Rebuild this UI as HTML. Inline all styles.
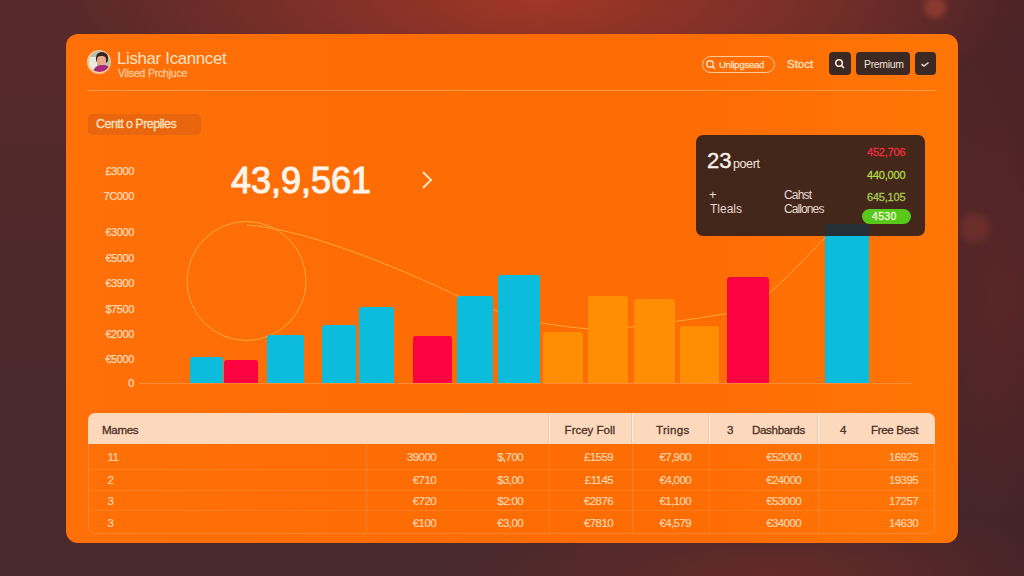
<!DOCTYPE html>
<html><head><meta charset="utf-8">
<style>
*{margin:0;padding:0;box-sizing:border-box}
html,body{width:1024px;height:576px;overflow:hidden}
body{position:relative;font-family:"Liberation Sans",sans-serif;background:#4a292b}
.abs{position:absolute;white-space:nowrap;line-height:1}
#bg{position:absolute;left:0;top:0;width:1024px;height:576px;
background:
radial-gradient(ellipse 470px 150px at 540px 0px, rgba(165,55,38,0.95), rgba(165,55,38,0) 100%),
radial-gradient(ellipse 330px 75px at 770px 576px, rgba(120,42,38,0.6), rgba(120,42,38,0) 100%),
radial-gradient(ellipse 90px 260px at 1000px 300px, rgba(105,40,38,0.55), rgba(105,40,38,0) 100%),
linear-gradient(90deg, rgba(0,0,0,0) 80%, rgba(30,10,20,0.18) 100%),
linear-gradient(180deg,#58292a 0%,#4e292b 45%,#48292c 100%);}
.bok{position:absolute;border-radius:50%;filter:blur(3px)}
#card{position:absolute;left:66px;top:34px;width:892px;height:508.5px;border-radius:12px;background:linear-gradient(90deg,#ff7008 0%,#fe6c04 45%,#fe6c04 70%,#ff7606 100%)}
.y{position:absolute;right:890px;font-size:11px;letter-spacing:-0.4px;color:#fddcbc;line-height:1;-webkit-text-stroke:0.25px #fddcbc;margin-top:1px}
.bar{position:absolute;bottom:193px;border-radius:3px 3px 0 0}
.c{background:#0cbcdc}.r{background:#fc0240}.o{background:#ff8e04}
.dk{position:absolute;background:#3c2924;border-radius:4px}
.td{position:absolute;font-size:11.5px;letter-spacing:-0.6px;line-height:1;margin-top:1px;color:#fdd4ac;white-space:nowrap;-webkit-text-stroke:0.2px #fdd4ac}
.tr{text-align:right}
.hl{position:absolute;left:89px;width:845px;height:1px;background:rgba(255,150,70,0.4)}
.vl{position:absolute;top:443px;width:1px;height:89px;background:rgba(255,160,90,0.35)}
.hv{position:absolute;top:413px;width:1px;height:30px;background:rgba(255,244,236,0.9);box-shadow:-1px 0 0 rgba(200,130,90,0.18)}
.th{position:absolute;font-size:11.6px;letter-spacing:-0.35px;line-height:1;margin-top:-0.5px;color:#4a3026;white-space:nowrap;-webkit-text-stroke:0.3px #4a3026}
</style></head><body>
<div id="bg"></div>
<div class="bok" style="left:924px;top:-4px;width:22px;height:22px;background:#8a3a30"></div>
<div class="bok" style="left:960px;top:213px;width:30px;height:30px;background:#6b2e2a"></div>
<div class="bok" style="left:575px;top:541px;width:28px;height:28px;background:#5a2a2a;opacity:.6"></div>
<div id="card"></div>

<!-- header -->
<div class="abs" style="left:87px;top:49.5px;width:24px;height:24px;border-radius:50%;background:#f7c89a;overflow:hidden;filter:blur(0.4px)">
  <div style="position:absolute;left:1.5px;top:1.5px;width:21px;height:21px;border-radius:50%;background:#b8c0a8;overflow:hidden">
    <div style="position:absolute;left:0;top:6px;width:8px;height:12px;background:#e8ece0"></div>
    <div style="position:absolute;left:7px;top:1px;width:12px;height:11px;border-radius:50% 50% 35% 35%;background:#3a2220"></div>
    <div style="position:absolute;left:8px;top:5px;width:9px;height:9px;border-radius:40%;background:#e6a88a"></div>
    <div style="position:absolute;left:5px;top:14px;width:17px;height:10px;border-radius:50% 50% 0 0;background:#a8287c"></div>
  </div>
</div>
<div class="abs" style="left:117px;top:51px;font-size:16.8px;letter-spacing:-0.3px;color:#fde2c6">Lishar Icanncet</div>
<div class="abs" style="left:118px;top:68px;font-size:10.5px;letter-spacing:-0.2px;color:#fcc898;-webkit-text-stroke:0.3px #fcc898">Vilsed Prchjuce</div>
<div class="abs" style="left:87px;top:90px;width:849px;height:1px;background:#ff9a44"></div>

<div class="abs" style="left:702px;top:56px;width:73px;height:17px;border:1px solid #fdc89a;border-radius:9px"></div>
<svg class="abs" style="left:705px;top:59px" width="12" height="12" viewBox="0 0 12 12"><circle cx="5" cy="5" r="3.3" fill="none" stroke="#fde0c2" stroke-width="1.5"/><line x1="7.4" y1="7.4" x2="10" y2="10" stroke="#fde0c2" stroke-width="1.5"/></svg>
<div class="abs" style="left:719px;top:60px;font-size:9.5px;letter-spacing:-0.25px;color:#fde0c2;-webkit-text-stroke:0.25px #fde0c2">Unlipgsead</div>
<div class="abs" style="left:787px;top:59px;font-size:11.5px;color:#fee0c0;-webkit-text-stroke:0.3px #fee0c0">Stoct</div>
<div class="dk" style="left:829px;top:52px;width:22px;height:23px"></div>
<svg class="abs" style="left:834px;top:58px" width="12" height="12" viewBox="0 0 12 12"><circle cx="5" cy="5" r="3.3" fill="none" stroke="#fde6d0" stroke-width="1.6"/><line x1="7.4" y1="7.4" x2="10" y2="10" stroke="#fde6d0" stroke-width="1.6"/></svg>
<div class="dk" style="left:856px;top:52px;width:54px;height:23px"></div>
<div class="abs" style="left:864px;top:59px;font-size:10.5px;letter-spacing:-0.35px;color:#f2e2d8">Premium</div>
<div class="dk" style="left:915px;top:52px;width:21px;height:23px"></div>
<svg class="abs" style="left:920px;top:60px" width="10" height="8" viewBox="0 0 10 8"><path d="M1.5 4.2 L4 6 L8.5 2.5" fill="none" stroke="#e8dcd4" stroke-width="1.5"/></svg>

<div class="abs" style="left:88px;top:114px;width:113px;height:20.5px;border-radius:5px;background:#ea660e"></div>
<div class="abs" style="left:96px;top:118px;font-size:12.5px;letter-spacing:-0.55px;color:#fde0c0;-webkit-text-stroke:0.3px #fde0c0">Centt o Prepiles</div>

<!-- y labels -->
<div class="y" style="top:165px">£3000</div>
<div class="y" style="top:190px">7C000</div>
<div class="y" style="top:226px">€3000</div>
<div class="y" style="top:252px">€5000</div>
<div class="y" style="top:277px">€3900</div>
<div class="y" style="top:303px">$7500</div>
<div class="y" style="top:328px">€2000</div>
<div class="y" style="top:353px">€5000</div>
<div class="y" style="top:377px">0</div>

<div class="abs" style="left:231px;top:163px;font-size:36px;color:#fff4ea;-webkit-text-stroke:1.1px #fff4ea">43,9,561</div>
<svg class="abs" style="left:420px;top:170px" width="14" height="20" viewBox="0 0 14 20"><path d="M3 2 L11 10 L3 18" fill="none" stroke="#fde8d4" stroke-width="1.8"/></svg>

<!-- chart -->
<svg class="abs" style="left:0;top:0" width="1024" height="576">
  <circle cx="246.5" cy="281" r="59.5" fill="none" stroke="#f8a83a" stroke-width="1"/>
  <path d="M247 225 C 290 228, 360 250, 458 296 C 475 304, 510 317, 540 322.7 C 560 326, 580 329, 600 329 C 630 328, 670 323, 730 313 M769 293.5 C 790 275, 805 258, 826 237" fill="none" stroke="#f8a83a" stroke-width="1"/>
  <line x1="139" y1="383.5" x2="912" y2="383.5" stroke="#fd8c3a" stroke-width="1"/>
</svg>
<div class="bar c" style="left:190px;width:33px;height:26px"></div>
<div class="bar r" style="left:224px;width:34px;height:23px"></div>
<div class="bar c" style="left:267px;width:37px;height:48px"></div>
<div class="bar c" style="left:322px;width:34px;height:58px"></div>
<div class="bar c" style="left:359px;width:35px;height:76px"></div>
<div class="bar r" style="left:413px;width:39px;height:47px"></div>
<div class="bar c" style="left:457px;width:36px;height:87px"></div>
<div class="bar c" style="left:498px;width:42px;height:108px"></div>
<div class="bar o" style="left:543px;width:40px;height:51px"></div>
<div class="bar o" style="left:588px;width:40px;height:87px"></div>
<div class="bar o" style="left:634px;width:41px;height:84px"></div>
<div class="bar o" style="left:680px;width:39px;height:57px"></div>
<div class="bar r" style="left:727px;width:42px;height:106px"></div>
<div class="bar c" style="left:825px;width:44px;height:159px"></div>

<!-- tooltip -->
<div class="abs" style="left:696px;top:135px;width:229px;height:101px;border-radius:7px;background:rgba(40,28,30,0.88)"></div>
<div class="abs" style="left:707px;top:150px;font-size:22px;color:#fbf2ec;-webkit-text-stroke:0.4px #fbf2ec">23</div>
<div class="abs" style="left:733px;top:158px;font-size:12.5px;letter-spacing:-0.4px;color:#f2e4dc">poert</div>
<div class="abs" style="left:709px;top:188px;font-size:13px;color:#e8d8d0">+</div>
<div class="abs" style="left:710px;top:203px;font-size:12px;color:#e8d8d0">Tleals</div>
<div class="abs" style="left:784px;top:189px;font-size:12px;letter-spacing:-0.8px;color:#e8d8d0">Cahst</div>
<div class="abs" style="left:784px;top:203px;font-size:12px;letter-spacing:-0.9px;color:#e8d8d0">Callones</div>
<div class="abs" style="left:867px;top:147px;font-size:11px;letter-spacing:-0.2px;color:#f02c3c;-webkit-text-stroke:0.3px #f02c3c">452,706</div>
<div class="abs" style="left:867px;top:170px;font-size:11px;letter-spacing:-0.2px;color:#b2d848;-webkit-text-stroke:0.3px #b2d848">440,000</div>
<div class="abs" style="left:867px;top:192px;font-size:11px;letter-spacing:-0.2px;color:#a8c850;-webkit-text-stroke:0.3px #a8c850">645,105</div>
<div class="abs" style="left:862px;top:209px;width:49px;height:15px;border-radius:8px;background:#58c81a"></div>
<div class="abs" style="left:872px;top:211px;font-size:10.5px;letter-spacing:0.3px;color:#eef8d8;-webkit-text-stroke:0.3px #eef8d8">4530</div>

<!-- table -->
<div class="abs" style="left:88px;top:413px;width:847px;height:121px;border:1px solid rgba(255,150,80,0.55);border-radius:7px"></div>
<div class="abs" style="left:88px;top:413px;width:847px;height:30.5px;border-radius:7px 7px 0 0;background:#fcd8bd"></div>

<div class="th" style="left:102px;top:424px">Mames</div>
<div class="th tr" style="right:409px;top:424px;letter-spacing:-0.05px">Frcey Foll</div>
<div class="th" style="left:656px;top:424px;letter-spacing:0.3px">Trings</div>
<div class="th" style="left:727px;top:424px">3</div>
<div class="th" style="left:752px;top:424px">Dashbards</div>
<div class="th" style="left:840px;top:424px">4</div>
<div class="th" style="left:871px;top:424px">Free Best</div>
<div class="hv" style="left:549px"></div>
<div class="hv" style="left:632px"></div>
<div class="hv" style="left:709px"></div>
<div class="hv" style="left:818px"></div>
<!-- table body -->
<div class="td" style="left:107.5px;top:451px">11</div>
<div class="td tr" style="right:588px;top:451px">39000</div>
<div class="td tr" style="right:501px;top:451px">$,700</div>
<div class="td tr" style="right:411px;top:451px">£1559</div>
<div class="td tr" style="right:333px;top:451px">€7,900</div>
<div class="td tr" style="right:223px;top:451px">€52000</div>
<div class="td tr" style="right:106px;top:451px">16925</div>
<div class="td" style="left:107.5px;top:473.5px">2</div>
<div class="td tr" style="right:588px;top:473.5px">€710</div>
<div class="td tr" style="right:501px;top:473.5px">$3,00</div>
<div class="td tr" style="right:411px;top:473.5px">£1145</div>
<div class="td tr" style="right:333px;top:473.5px">€4,000</div>
<div class="td tr" style="right:223px;top:473.5px">€24000</div>
<div class="td tr" style="right:106px;top:473.5px">19395</div>
<div class="td" style="left:107.5px;top:494.5px">3</div>
<div class="td tr" style="right:588px;top:494.5px">€720</div>
<div class="td tr" style="right:501px;top:494.5px">$2:00</div>
<div class="td tr" style="right:411px;top:494.5px">€2876</div>
<div class="td tr" style="right:333px;top:494.5px">€1,100</div>
<div class="td tr" style="right:223px;top:494.5px">€53000</div>
<div class="td tr" style="right:106px;top:494.5px">17257</div>
<div class="td" style="left:107.5px;top:516.5px">3</div>
<div class="td tr" style="right:588px;top:516.5px">€100</div>
<div class="td tr" style="right:501px;top:516.5px">€3,00</div>
<div class="td tr" style="right:411px;top:516.5px">€7810</div>
<div class="td tr" style="right:333px;top:516.5px">€4,579</div>
<div class="td tr" style="right:223px;top:516.5px">€34000</div>
<div class="td tr" style="right:106px;top:516.5px">14630</div>
<div class="hl" style="top:468.5px"></div>
<div class="hl" style="top:490px"></div>
<div class="hl" style="top:510px"></div>
<div class="vl" style="left:366px"></div>
<div class="vl" style="left:549px"></div>
<div class="vl" style="left:632px"></div>
<div class="vl" style="left:709px"></div>
<div class="vl" style="left:818px"></div>
</body></html>
